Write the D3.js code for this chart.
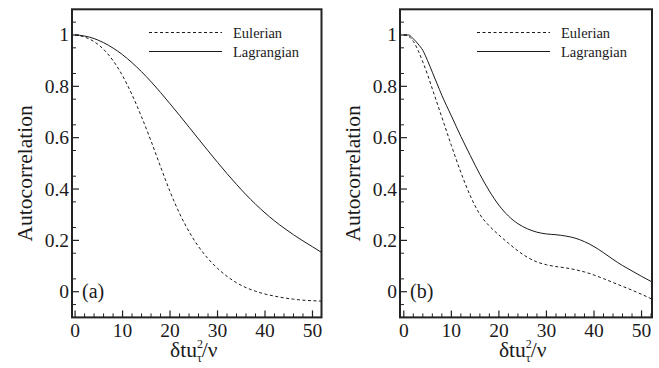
<!DOCTYPE html>
<html><head><meta charset="utf-8">
<script src="https://cdn.jsdelivr.net/npm/d3@7"></script>
<style>body{margin:0;background:#fff}svg{display:block}</style>
</head><body><svg id="c" width="659" height="368" font-family="'Liberation Serif', 'Times New Roman', Times, 'DejaVu Serif', serif"></svg>
<script>
const xTicks = [0, 10, 20, 30, 40, 50];
const yTicks = [0, 0.2, 0.4, 0.6, 0.8, 1];
const yTickLabels = ["0", "0.2", "0.4", "0.6", "0.8", "1"];
const seriesNames = ["Eulerian", "Lagrangian"];
const panelLabels = ["(a)", "(b)"];

const aEulerianX = [0,2,4,6,8,10,12,14,16,18,20,22,24,26,28,30,32,34,36,38,40,42,44,46,48,50,52];
const aEulerianY = [1.0,0.992,0.974,0.944,0.9,0.841,0.767,0.681,0.587,0.487,0.39,0.305,0.234,0.176,0.129,0.091,0.06,0.035,0.016,0.002,-0.009,-0.017,-0.024,-0.029,-0.033,-0.035,-0.037];
const aLagrangianX = [0,2,4,6,8,10,12,14,16,18,20,22,24,26,28,30,32,34,36,38,40,42,44,46,48,50,52];
const aLagrangianY = [1.0,0.996,0.986,0.97,0.949,0.923,0.892,0.857,0.818,0.776,0.732,0.687,0.641,0.595,0.549,0.504,0.46,0.418,0.378,0.341,0.307,0.276,0.248,0.222,0.198,0.175,0.152];
const bEulerianX = [0,1,2,3,4,5,6,7,8,10,12,14,16,18,20,22,24,26,28,30,32,34,36,38,40,42,44,46,48,50,52];
const bEulerianY = [1.0,0.995,0.975,0.94,0.895,0.845,0.79,0.735,0.68,0.57,0.465,0.373,0.301,0.256,0.221,0.189,0.159,0.134,0.116,0.105,0.098,0.093,0.086,0.077,0.065,0.051,0.036,0.021,0.006,-0.01,-0.027];
const bLagrangianX = [0,1,2,3,4,5,6,7,8,10,12,14,16,18,20,22,24,26,28,30,32,34,36,38,40,42,44,46,48,50,52];
const bLagrangianY = [1.0,1.0,0.985,0.965,0.94,0.9,0.855,0.81,0.765,0.685,0.605,0.53,0.457,0.392,0.337,0.295,0.265,0.245,0.232,0.225,0.222,0.217,0.209,0.195,0.176,0.152,0.126,0.102,0.081,0.06,0.04];

const panels = [
  {label: panelLabels[0], x0: 72, x1: 321.5, dom: [-0.65, 51.9],
   series: [[aEulerianX, aEulerianY], [aLagrangianX, aLagrangianY]]},
  {label: panelLabels[1], x0: 400, x1: 652, dom: [-0.8, 52.2],
   series: [[bEulerianX, bEulerianY], [bLagrangianX, bLagrangianY]]}
];
const svg = d3.select("#c");
const FF = "'Liberation Serif', 'Times New Roman', Times, 'DejaVu Serif', serif";
const yTop = 9.3, yBot = 317.4;
const ink = "#1a1a1a";

panels.forEach((p, pi) => {
  const x = d3.scaleLinear().domain(p.dom).range([p.x0, p.x1]);
  const y = d3.scaleLinear().domain([-0.1, 1.1]).range([yBot, yTop]);
  const g = svg.append("g");
  const xMinor = d3.range(0, 53, 2).filter(v => v % 10 !== 0 && v <= p.dom[1]);
  g.selectAll(".xm").data(xMinor).enter().append("line")
    .attr("x1", d => x(d)).attr("x2", d => x(d)).attr("y1", yBot).attr("y2", yBot - 4)
    .attr("stroke", "#222").attr("stroke-width", 1);
  g.selectAll(".xM").data(xTicks).enter().append("line")
    .attr("x1", d => x(d)).attr("x2", d => x(d)).attr("y1", yBot).attr("y2", yBot - 7)
    .attr("stroke", "#222").attr("stroke-width", 1.2);
  const yMinor = d3.range(-0.05, 1.1, 0.1).map(v => Math.round(v * 100) / 100);
  g.selectAll(".ym").data(yMinor).enter().append("line")
    .attr("x1", p.x0).attr("x2", p.x0 + 4).attr("y1", d => y(d)).attr("y2", d => y(d))
    .attr("stroke", "#222").attr("stroke-width", 1);
  g.selectAll(".yM").data(yTicks).enter().append("line")
    .attr("x1", p.x0).attr("x2", p.x0 + 7).attr("y1", d => y(d)).attr("y2", d => y(d))
    .attr("stroke", "#222").attr("stroke-width", 1.2);
  g.selectAll(".xl").data(xTicks).enter().append("text")
    .attr("font-family", FF).attr("fill", ink)
    .attr("x", d => x(d)).attr("y", 337).attr("text-anchor", "middle")
    .attr("font-size", 19.5).text(d => d);
  g.selectAll(".yl").data(yTicks).enter().append("text")
    .attr("font-family", FF).attr("fill", ink)
    .attr("x", p.x0 - 3).attr("y", d => y(d) + 6.5).attr("text-anchor", "end")
    .attr("font-size", 19.5).text((d, i) => yTickLabels[i]);
  const line = d3.line().x(d => x(d[0])).y(d => y(d[1])).curve(d3.curveMonotoneX);
  p.series.forEach((s, si) => {
    const pts = s[0].map((v, i) => [v, s[1][i]]);
    g.append("path").attr("d", line(pts)).attr("fill", "none")
      .attr("stroke", ink).attr("stroke-width", 1)
      .attr("stroke-dasharray", si === 0 ? "3,2.5" : null);
  });
  g.append("rect").attr("x", p.x0).attr("y", yTop).attr("width", p.x1 - p.x0).attr("height", yBot - yTop)
    .attr("fill", "none").attr("stroke", "#222").attr("stroke-width", 2);
  const lx = p.x0 + 77;
  [32.5, 51.5].forEach((ly, i) => {
    g.append("line").attr("x1", lx).attr("x2", lx + 73).attr("y1", ly).attr("y2", ly)
      .attr("stroke", ink).attr("stroke-width", 1)
      .attr("stroke-dasharray", i === 0 ? "3,2.5" : null);
    g.append("text").attr("font-family", FF).attr("fill", ink)
      .attr("x", lx + 84).attr("y", ly + 5).attr("font-size", 14.5).text(seriesNames[i]);
  });
  g.append("text").attr("font-family", FF).attr("fill", ink)
    .attr("x", p.x0 + 10).attr("y", 298).attr("font-size", 20).text(p.label);
  g.append("text").attr("font-family", FF).attr("fill", ink)
    .attr("transform", `translate(${p.x0 - 40},${(yTop + yBot) / 2 + 10}) rotate(-90)`)
    .attr("text-anchor", "middle").attr("font-size", 21.5).text("Autocorrelation");
  const xt = g.append("text").attr("font-family", FF).attr("fill", ink)
    .attr("x", x(25)).attr("y", 357).attr("text-anchor", "middle").attr("font-size", 21.5);
  xt.append("tspan").text("δtu");
  xt.append("tspan").attr("font-size", 12).attr("dy", -9).text("2");
  xt.append("tspan").attr("font-size", 12).attr("dx", -6).attr("dy", 14).text("τ");
  xt.append("tspan").attr("dy", -5).text("/ν");
});
</script></body></html>
